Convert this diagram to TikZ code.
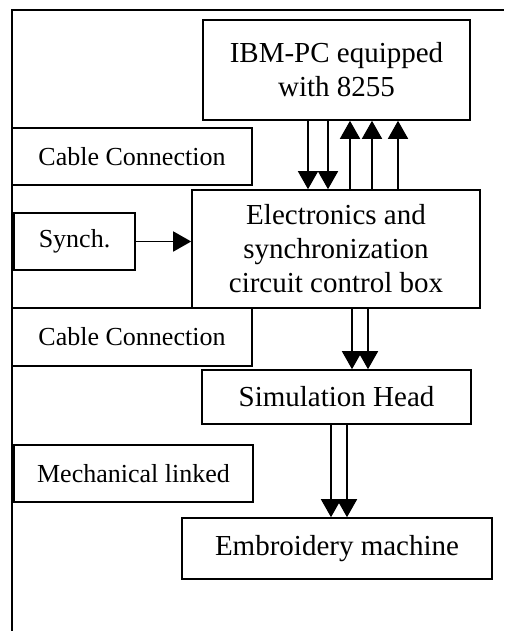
\documentclass[tikz,border=0pt]{standalone}
\usepackage{fontspec}
\setmainfont{Liberation Serif}
\usetikzlibrary{arrows.meta}
\begin{document}
\begin{tikzpicture}[x=1pt,y=-1pt,line width=1.6pt,
  mainbox/.style={draw,rectangle,inner sep=0pt,align=center,font=\fontsize{29}{34}\selectfont},
  sidebox/.style={draw,rectangle,inner sep=0pt,align=center,font=\fontsize{26}{30}\selectfont},
  arr/.style={-{Triangle[length=18pt,width=20pt]}}]
\useasboundingbox (0,0) rectangle (504,631);
\draw (12,631) -- (12,10) -- (504,10);
\node[mainbox,minimum width=267pt,minimum height=100pt] (ibm) at (336.5,70) {IBM-PC equipped\\with 8255};
\node[sidebox,minimum width=240pt,minimum height=57pt] (cab1) at (132,156.5) {Cable Connection};
\node[mainbox,minimum width=288pt,minimum height=118pt] (elec) at (336,249) {Electronics and\\synchronization\\circuit control box};
\node[sidebox,minimum width=121pt,minimum height=57pt] (synch) at (74.5,241.5) {Synch.};
\node[sidebox,minimum width=240pt,minimum height=58pt] (cab2) at (132,337) {Cable Connection};
\node[mainbox,minimum width=269pt,minimum height=54pt] (sim) at (336.5,397) {Simulation Head};
\node[sidebox,minimum width=239pt,minimum height=57pt] (mech) at (133.5,473.5) {Mechanical linked};
\node[mainbox,minimum width=310pt,minimum height=61pt] (emb) at (337,548.5) {Embroidery machine};
\coordinate (d1) at (308,0);
\coordinate (d2) at (328,0);
\coordinate (u1) at (350,0);
\coordinate (u2) at (372,0);
\coordinate (u3) at (398,0);
\coordinate (e1) at (352,0);
\coordinate (e2) at (368,0);
\coordinate (s1) at (331,0);
\coordinate (s2) at (347,0);
\draw[arr] (ibm.south -| d1) -- (elec.north -| d1);
\draw[arr] (ibm.south -| d2) -- (elec.north -| d2);
\draw[arr] (elec.north -| u1) -- (ibm.south -| u1);
\draw[arr] (elec.north -| u2) -- (ibm.south -| u2);
\draw[arr] (elec.north -| u3) -- (ibm.south -| u3);
\draw[arr] (synch.east) -- (synch.east -| elec.west);
\draw[arr] (elec.south -| e1) -- (sim.north -| e1);
\draw[arr] (elec.south -| e2) -- (sim.north -| e2);
\draw[arr] (sim.south -| s1) -- (emb.north -| s1);
\draw[arr] (sim.south -| s2) -- (emb.north -| s2);
\end{tikzpicture}
\end{document}
